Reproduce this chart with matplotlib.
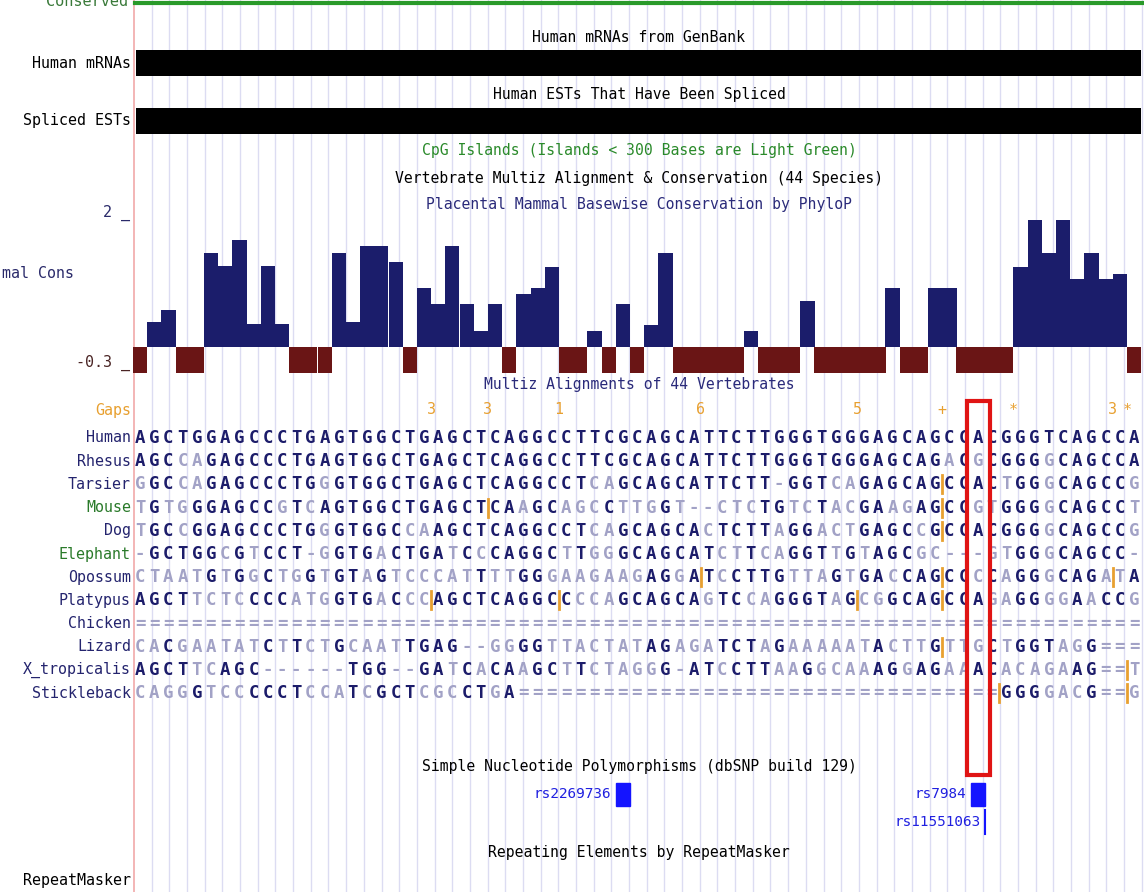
import numpy as np
import matplotlib.pyplot as plt
from matplotlib.patches import Rectangle

W, H = 1144, 892
X0, STEP = 132.9, 14.2      # left edge of first base (px), px per base
ROW0, ROW_H = 438, 23.2     # first alignment row, row spacing (px)

# ---- alignment (one char per base, 71 bases) ----
human = "AGCTGGAGCCCTGAGTGGC" "TGAGCTCAGGCCTTCGCAGCATTCTTG" "GGTGGGAGCAGCCACGGGTCAGCCA"
rhesus = "AGCCAGAGCCCTGAGTGGC" "TGAGCTCAGGCCTTCGCAGCATTCTTG" "GGTGGGAGCAGACGCGGGGCAGCCA"
tarsier = "GGCCAGAGCCCTGGGTGGC" "TGAGCTCAGGCCTCAGCAGCATTCTT-" "GGTCAGAGCAGCCACTGGGCAGCCG"
mouse = "TGTGGGAGCCGTCAGTGGC" "TGAGCTCAAGCAGCCTTGGT--CTCTG" "TCTACGAAGAGCCGTGGGGCAGCCT"
dog = "TGCCGGAGCCCTGGGTGGC" "CAAGCTCAGGCCTCAGCAGCACTCTTA" "GGACTGAGCCGCCACGGGGCAGCCG"
elephant = "-GCTGGCGTCCT-GGTGAC" "TGATCCCAGGCTTGGGCAGCATCTTCA" "GGTTGTAGCGC---GTGGGCAGCC-"
opossum = "CTAATGTGGCTGGTGTAGT" "CCCATTTTGGGAAGAAGAGGATCCTTG" "TTAGTGACCAGCCCCAGGGCAGATA"
platypus = "AGCTTCTCCCCATGGTGACCCAGCT" "CAGGCCCCAGCAGCAGTCCAGGG" "TAGCGGCAGCCAGAGGGGAACCG"
chicken = "=" * 71
lizard = "CACGAATATCTTCTGCAATTGAG--" "GGGGTTACTATAGAGATCTAGAA" "AAATACTTGTTGCTGGTAGG==="
xtrop = "AGCTTCAGC------TGG--GATCACAAGCTTCTAGGG-ATCCTTAAGGCAAAGGAGAAACACAGAAG==T"
stickleback = "CAGGGTCCCCCTCCATCGCTCGCCTGA" + "=" * 32 + "==GGGGACG==G"

species = ['Human', 'Rhesus', 'Tarsier', 'Mouse', 'Dog', 'Elephant', 'Opossum',
           'Platypus', 'Chicken', 'Lizard', 'X_tropicalis', 'Stickleback']
seqs = [human, rhesus, tarsier, mouse, dog, elephant, opossum,
        platypus, chicken, lizard, xtrop, stickleback]
label_colors = ['#24246e', '#24246e', '#24246e', '#2a7a2a', '#24246e', '#2a7a2a',
                '#24246e', '#24246e', '#24246e', '#24246e', '#24246e', '#24246e']
# insertion points (base boundaries) per species
inserts = [[], [], [57], [25, 57], [57], [], [40, 57, 69],
           [21, 30, 51, 57], [], [57], [70], [61, 70]]

gap_pos = [21, 25, 30, 40, 51, 57, 62, 69, 70]
gap_lab = ['3', '3', '1', '6', '5', '+', '*', '3', '*']

# ---- PhyloP basewise conservation (negative values clipped at -0.4) ----
phylop = [-0.4, 0.39, 0.57, -0.4, -0.4, 1.45, 1.24, 1.65, 0.36, 1.24,
          0.36, -0.4, -0.4, -0.4, 1.45, 0.39, 1.55, 1.55, 1.31, -0.4,
          0.90, 0.66, 1.55, 0.66, 0.24, 0.66, -0.4, 0.81, 0.90, 1.23,
          -0.4, -0.4, 0.25, -0.4, 0.66, -0.4, 0.34, 1.45, -0.4, -0.4,
          -0.4, -0.4, -0.4, 0.25, -0.4, -0.4, -0.4, 0.71, -0.4, -0.4,
          -0.4, -0.4, -0.4, 0.90, -0.4, -0.4, 0.90, 0.90, -0.4, -0.4,
          -0.4, -0.4, 1.23, 1.96, 1.45, 1.96, 1.04, 1.45, 1.04, 1.13, -0.4]

# ---- dbSNP ----
snp_names = ['rs2269736', 'rs7984', 'rs11551063']
snp_start = [34, 59, 60]
snp_len = [1, 1, 0]
snp_row = [0, 0, 1]

highlight_base = 59

titles = [("Human mRNAs from GenBank", 37, 'black'),
          ("Human ESTs That Have Been Spliced", 94, 'black'),
          ("CpG Islands (Islands < 300 Bases are Light Green)", 151, '#2a8a2a'),
          ("Vertebrate Multiz Alignment & Conservation (44 Species)", 178, 'black'),
          ("Placental Mammal Basewise Conservation by PhyloP", 204, '#2a2a7a'),
          ("Multiz Alignments of 44 Vertebrates", 384, '#2a2a7a'),
          ("Simple Nucleotide Polymorphisms (dbSNP build 129)", 767, 'black'),
          ("Repeating Elements by RepeatMasker", 853, 'black')]

DARK, LIGHT, ORANGE = '#1c1c6a', '#a2a2c6', '#e8a030'
plt.rcParams['font.family'] = ['DejaVu Sans Mono']

fig = plt.figure(figsize=(W / 100, H / 100), dpi=100)
bg = fig.add_axes([0, 0, 1, 1])
bg.set_xlim(0, W)
bg.set_ylim(H, 0)
bg.axis('off')

# guidelines
for gx in np.arange(134 + 17.68, W, 17.68):
    bg.axvline(gx, color='#dcdcf2', lw=1, zorder=0)
bg.axvline(134, color='#f2b0b0', lw=1.3, zorder=0)
bg.plot([135, W], [3, 3], color='#2a9a2a', lw=3)
bg.text(128, 1, "Conserved", ha='right', va='center', color='#3a7a3a', fontsize=11)

nb = len(human)
span = nb * STEP
trk = fig.add_axes([X0 / W, 0, span / W, 1])
trk.set_xlim(0, nb)
trk.set_ylim(H, 0)
trk.axis('off')
trk.patch.set_alpha(0)

# mRNA / EST bars
trk.barh([63, 121], [nb, nb], height=26, left=0.2, color='black')
bg.text(131, 63, "Human mRNAs", ha='right', va='center', fontsize=10.8)
bg.text(131, 121, "Spliced ESTs", ha='right', va='center', fontsize=10.8)

for t, y, c in titles:
    bg.text(639, y, t, ha='center', va='center', color=c, fontsize=10.6)

# conservation track
zero_px, unit_px = 347, 65
c_top, c_bot = 2.1, -0.4
top_px = zero_px - c_top * unit_px
bot_px = zero_px - c_bot * unit_px
cons = fig.add_axes([X0 / W, 1 - bot_px / H, span / W, (bot_px - top_px) / H])
cons.set_xlim(0, nb)
cons.set_ylim(c_bot, c_top)
cons.axis('off')
cons.patch.set_alpha(0)
vals = np.array(phylop)
cons.bar(np.arange(nb) + 0.5, vals, width=1.0, linewidth=0,
         color=np.where(vals >= 0, '#1b1d6b', '#6a1515'))
cons.text(-0.2, 2.0, "2 _", ha='right', va='baseline', color='#2a2a6a', fontsize=10.8, clip_on=False)
cons.text(-0.2, -0.3, "-0.3 _", ha='right', va='baseline', color='#4a2424', fontsize=10.8, clip_on=False)
bg.text(2, 273, "mal Cons", ha='left', va='center', color='#2a2a6a', fontsize=10.8)

# gaps row
gy = ROW0 - 28
bg.text(131, gy, "Gaps", ha='right', va='center', color=ORANGE, fontsize=10.8)
for p, lab in zip(gap_pos, gap_lab):
    trk.text(p, gy, lab, ha='center', va='center', color=ORANGE, fontsize=10.8)

# alignment rows
for r, (name, seq, col) in enumerate(zip(species, seqs, label_colors)):
    y = ROW0 + r * ROW_H
    bg.text(131, y, name, ha='right', va='center', color=col, fontsize=10.8)
    for k, ch in enumerate(seq):
        dark = ch == human[k] and ch not in '-='
        trk.text(k + 0.5, y, ch, ha='center', va='center', fontsize=12.5,
                 fontweight='bold', color=DARK if dark else LIGHT)
    for b in inserts[r]:
        trk.plot([b, b], [y - 9, y + 9], color=ORANGE, lw=2)

# highlighted column
trk.add_patch(Rectangle((highlight_base - 0.25, 401), 1.6, 374, fill=False,
                        edgecolor='#e01414', lw=3, zorder=5))

# SNPs
for name, s, ln, row in zip(snp_names, snp_start, snp_len, snp_row):
    y = 794 + row * 28
    if ln > 0:
        trk.add_patch(Rectangle((s, y - 11.5), ln, 23, color='#1414ff'))
    else:
        trk.plot([s, s], [y - 12, y + 12], color='#1414ff', lw=1.5)
    trk.text(s - 0.3, y, name, ha='right', va='center', color='#2020e0', fontsize=10.4)

bg.text(131, 880, "RepeatMasker", ha='right', va='center', fontsize=10.8)

fig.savefig('out.png', dpi=100)
